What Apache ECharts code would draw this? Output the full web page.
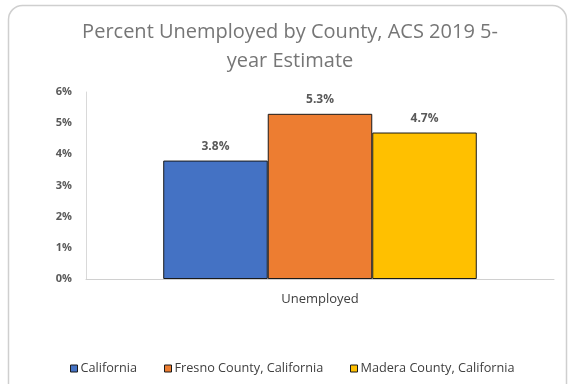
<!DOCTYPE html>
<html>
<head>
<meta charset="utf-8">
<script src="https://cdn.jsdelivr.net/npm/echarts@6/dist/echarts.min.js"></script>
<style>
html,body{margin:0;padding:0;background:#fff;}
#chart{width:568px;height:384px;}
</style>
</head>
<body>
<div id="chart"></div>
<script>
// Unemployment rate (percent), ACS 2019 5-year estimate
const categories = ['Unemployed'];
const seriesNames = ['California', 'Fresno County, California', 'Madera County, California'];
const seriesValues = [[3.8], [5.3], [4.7]];
const seriesColors = ['#4472C4', '#ED7D31', '#FFC000'];
const yTicks = [0, 1, 2, 3, 4, 5, 6];

const FONT = 'Open Sans';
const legendLefts = [70, 164, 350];
const chart = echarts.init(document.getElementById('chart'));

chart.setOption({
  animation: false,
  backgroundColor: '#fff',
  textStyle: { fontFamily: FONT },
  graphic: [{
    type: 'rect',
    shape: { x: 8.5, y: 5.5, width: 558, height: 400, r: 14 },
    style: { fill: 'none', stroke: '#cfcfcf', lineWidth: 1.5 },
    silent: true
  }],
  title: {
    text: 'Percent Unemployed by County, ACS 2019 5-\nyear Estimate',
    left: 285,
    textAlign: 'center',
    top: 13,
    textStyle: { fontFamily: FONT, fontSize: 20, fontWeight: 'normal', color: '#767676', lineHeight: 29 }
  },
  legend: seriesNames.map((name, i) => ({
    data: [name],
    left: legendLefts[i],
    bottom: 9,
    padding: 0,
    itemWidth: 7,
    itemHeight: 7,
    icon: 'rect',
    itemStyle: { borderColor: '#1a1a1a', borderWidth: 1 },
    textStyle: { fontFamily: FONT, fontSize: 12.7, color: '#404040', padding: [0, 0, 0, -2] }
  })),
  grid: { left: 86, right: 14, top: 92, bottom: 105 },
  xAxis: {
    type: 'category',
    data: categories,
    axisLine: { lineStyle: { color: '#d0d0d0', width: 1 } },
    axisTick: { show: false },
    axisLabel: { fontFamily: FONT, fontSize: 13, color: '#404040', margin: 14 }
  },
  yAxis: {
    type: 'value',
    min: yTicks[0],
    max: yTicks[yTicks.length - 1],
    interval: 1,
    axisLine: { show: true, lineStyle: { color: '#d9d9d9' } },
    axisTick: { show: false },
    splitLine: { show: false },
    axisLabel: {
      fontFamily: FONT, fontSize: 11, fontWeight: 'bold', color: '#595959', margin: 14,
      formatter: v => v + '%'
    }
  },
  series: seriesNames.map((name, i) => ({
    name,
    type: 'bar',
    data: seriesValues[i],
    barGap: '0%',
    barCategoryGap: '33%',
    itemStyle: { color: seriesColors[i], borderColor: '#1a1a1a', borderWidth: 1 },
    label: {
      show: true,
      position: 'top',
      distance: 8,
      fontFamily: FONT,
      fontSize: 12,
      fontWeight: 'bold',
      color: '#595959',
      formatter: p => p.value.toFixed(1) + '%'
    }
  }))
});
</script>
</body>
</html>
